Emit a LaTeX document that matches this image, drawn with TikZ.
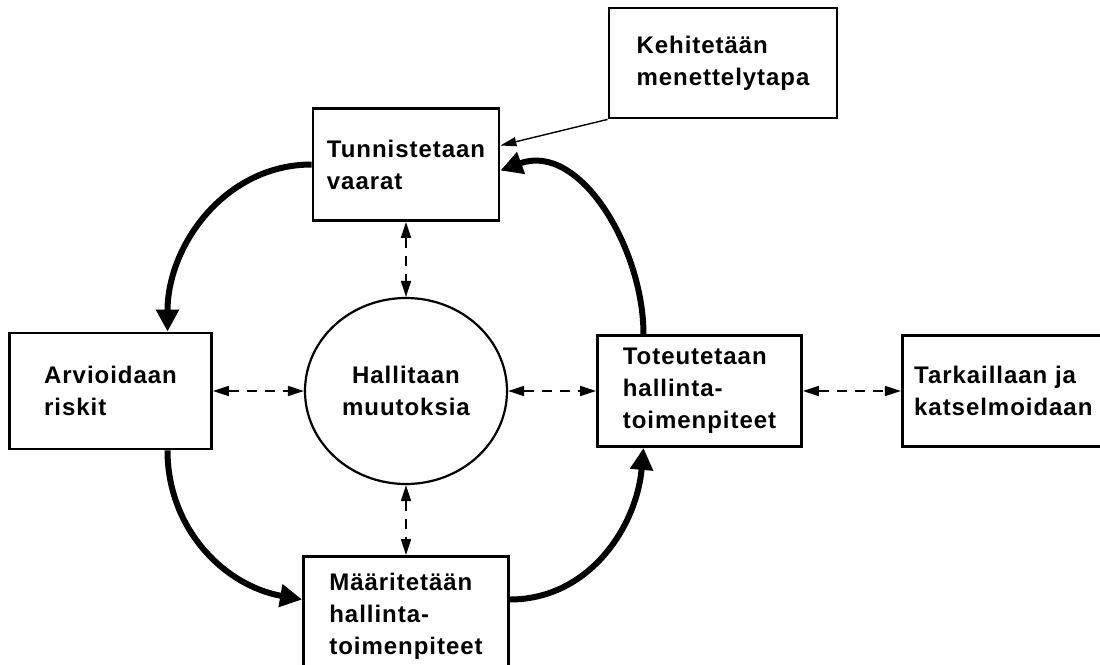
\documentclass[tikz,border=0pt]{standalone}
\usepackage{fontspec}
\setmainfont{Liberation Sans}[LetterSpace=4.0]
\usetikzlibrary{arrows.meta}
\usetikzlibrary{positioning}
\usetikzlibrary{shapes.geometric}

\begin{document}
\begin{tikzpicture} [x=0.5pt,y=-0.5pt,
		box/.style={rectangle,draw=black,line width=1.4pt,fill=white,align=left,minimum width=#1,minimum height=56pt,inner sep=0pt,font=\bfseries\fontsize{12pt}{16pt}\selectfont},
		cyclearrow/.style={-{Triangle[length=11pt,width=11pt]},line width=3pt},
		dlink/.style={{Triangle[length=8pt,width=5pt]}-{Triangle[length=8pt,width=5pt]},line width=0.8pt,dash pattern=on 5pt off 4pt},
		feed/.style={-{Triangle[length=8pt,width=4.5pt]},line width=0.7pt}]
		
		\clip (0,0) rectangle (1100,665);
		
		% node positions
		\node[ellipse,draw=black,line width=1.1pt,minimum width=101pt,minimum height=93pt,inner sep=0pt,align=center,font=\bfseries\fontsize{12pt}{16pt}\selectfont] (hall) at (406,391) {Hallitaan\\muutoksia};
		\node[box=93pt, above = 37.5pt of hall] (tunn) {Tunnistetaan\\vaarat};
		\node[box=101pt, minimum height=58pt, left = 45.5pt of hall] (arvio) {Arvioidaan\\riskit};
		\node[box=102pt, minimum height=55.5pt, right = 44pt of hall] (toteu) {Toteutetaan\\hallinta-\\toimenpiteet};
		\node[box=101pt, minimum height=55.5pt, right = 49pt of toteu] (tarka) {Tarkaillaan ja\\katselmoidaan};
		\node[box=102.5pt, minimum height=60pt, below = 35pt of hall] (maar) {Määritetään\\hallinta-\\toimenpiteet};
		\node[box=114pt, minimum height=55pt] (kehit) at (723,63) {Kehitetään\\menettelytapa};
		
		% dashed links
		\draw[dlink] (tunn) -- (hall);
		\draw[dlink] (hall) -- (maar);
		\draw[dlink] (arvio) -- (hall);
		\draw[dlink] (hall) -- (toteu);
		\draw[dlink] (toteu) -- (tarka);
		
		% feed arrow
		\draw[feed] (kehit.south west) -- ([yshift=9.5pt]tunn.east);
		
		% main cycle
		\draw[cyclearrow] ([xshift=-28pt]toteu.north) to[out=90,in=20] ([yshift=-3pt]tunn.east);
		\draw[cyclearrow] (tunn.west) to[out=180,in=90] ([xshift=28.5pt]arvio.north);
		\draw[cyclearrow] ([xshift=28.5pt]arvio.south) to[out=-90,in=170] ([yshift=8.5pt]maar.west);
		\draw[cyclearrow] ([yshift=8.5pt]maar.east) to[out=0,in=-95] ([xshift=-28pt]toteu.south);
		
	\end{tikzpicture}
\end{document}
